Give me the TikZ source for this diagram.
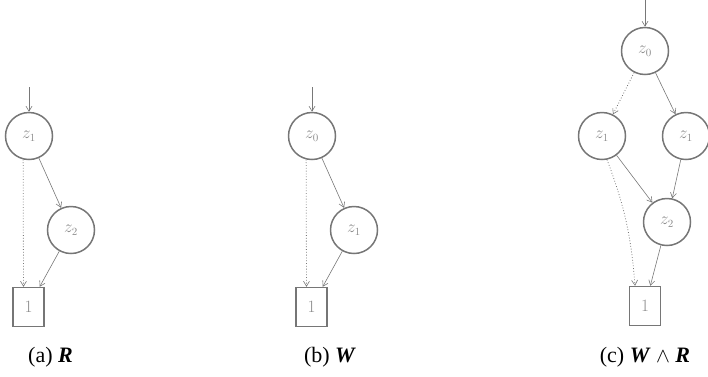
\documentclass[tikz,border=0pt]{standalone}
\usepackage{fontspec}
\setmainfont{Liberation Serif}
\usetikzlibrary{arrows.meta}
\definecolor{edgec}{RGB}{120,120,120}
\definecolor{nodec}{RGB}{118,118,118}
\definecolor{textc}{RGB}{140,140,140}
\tikzset{
  bddnode/.style={circle,draw=nodec,line width=1.5pt,minimum size=47pt,inner sep=0pt,text=textc,font=\fontsize{16}{16}\selectfont},
  leafnode/.style={rectangle,draw=nodec,line width=1.5pt,minimum width=31pt,minimum height=39pt,inner sep=0pt,text=textc,font=\fontsize{16.5}{16.5}\selectfont},
  hi/.style={draw=edgec,line width=0.6pt,-{Straight Barb[length=5pt,width=6pt]}},
  lo/.style={draw=edgec,line width=0.8pt,dotted,-{Straight Barb[length=5pt,width=6pt,line width=0.6pt]}},
  captext/.style={font=\fontsize{22}{22}\selectfont,text=black,inner sep=0pt}
}
\begin{document}
\begin{tikzpicture}[x=1pt,y=-1pt]
\useasboundingbox (0,0) rectangle (708,376);
% (a)
\node[bddnode] (a1) at (29,136) {$z_1$};
\node[bddnode] (a2) at (71,230) {$z_2$};
\node[leafnode] (aone) at (28.5,307) {$1$};
\coordinate (ain) at (29,87);
\draw[hi] (ain) -- (a1);
\draw[hi] (a1) -- (a2);
\draw[hi] (a2) -- (aone);
\draw[lo] (a1.256) -- ([xshift=-5pt]aone.north);
\node[captext] (acap) at (50.5,357) {(a) \textbf{\textit{R}}};
% (b)
\node[bddnode] (b0) at (312,136) {$z_0$};
\node[bddnode] (b1) at (354,230) {$z_1$};
\node[leafnode] (bone) at (311.5,307) {$1$};
\coordinate (bin) at (312,87);
\draw[hi] (bin) -- (b0);
\draw[hi] (b0) -- (b1);
\draw[hi] (b1) -- (bone);
\draw[lo] (b0.256) -- ([xshift=-5pt]bone.north);
\node[captext] (bcap) at (330,357) {(b) \textbf{\textit{W}}};
% (c)
\node[bddnode] (c0) at (645,51) {$z_0$};
\node[bddnode] (c1l) at (602,136) {$z_1$};
\node[bddnode] (c1r) at (686,136) {$z_1$};
\node[bddnode] (c2) at (667,222) {$z_2$};
\node[leafnode] (cone) at (645,306) {$1$};
\coordinate (cin) at (645,0);
\draw[hi] (cin) -- (c0);
\draw[lo] (c0) -- (c1l);
\draw[hi] (c0) -- (c1r);
\draw[hi] (c1l) -- (c2);
\draw[hi] (c1r) -- (c2);
\draw[hi] (c2) -- (cone);
\draw[lo] (c1l.282) to[bend left=8] ([xshift=-10pt]cone.north);
\node[captext] (ccap) at (645,357) {(c) \textbf{\textit{W}} $\wedge$ \textbf{\textit{R}}};
\end{tikzpicture}
\end{document}
